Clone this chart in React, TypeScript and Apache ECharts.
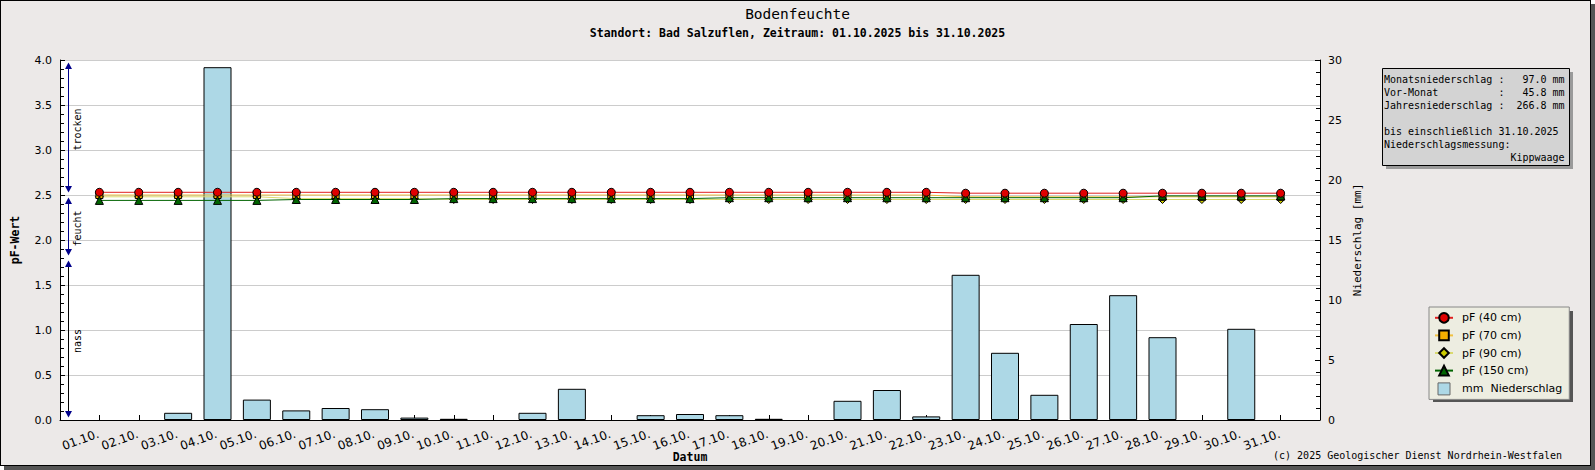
import React, { useEffect, useRef } from "react";
import * as echarts from "echarts";

const DAYS = [
  "01.10.", "02.10.", "03.10.", "04.10.", "05.10.", "06.10.", "07.10.", "08.10.",
  "09.10.", "10.10.", "11.10.", "12.10.", "13.10.", "14.10.", "15.10.", "16.10.",
  "17.10.", "18.10.", "19.10.", "20.10.", "21.10.", "22.10.", "23.10.", "24.10.",
  "25.10.", "26.10.", "27.10.", "28.10.", "29.10.", "30.10.", "31.10.",
];

const RAIN_MM = [
  0, 0, 0.6, 29.4, 1.7, 0.8, 1.0, 0.9, 0.2, 0.1, 0, 0.6, 2.6, 0, 0.4, 0.5,
  0.4, 0.1, 0, 1.6, 2.5, 0.3, 12.1, 5.6, 2.1, 8.0, 10.4, 6.9, 0, 7.6, 0,
];

const PF_40 = [
  2.53, 2.53, 2.53, 2.53, 2.53, 2.53, 2.53, 2.53, 2.53, 2.53, 2.53, 2.53, 2.53, 2.53, 2.53, 2.53,
  2.53, 2.53, 2.53, 2.53, 2.53, 2.53, 2.52, 2.52, 2.52, 2.52, 2.52, 2.52, 2.52, 2.52, 2.52,
];
const PF_70 = [
  2.5, 2.5, 2.5, 2.5, 2.5, 2.5, 2.5, 2.5, 2.5, 2.5, 2.5, 2.5, 2.5, 2.5, 2.5, 2.5,
  2.5, 2.5, 2.5, 2.5, 2.5, 2.5, 2.48, 2.48, 2.48, 2.48, 2.48, 2.48, 2.48, 2.48, 2.48,
];
const PF_90 = [
  2.48, 2.48, 2.48, 2.48, 2.48, 2.46, 2.46, 2.46, 2.46, 2.45, 2.45, 2.45, 2.45, 2.45, 2.45, 2.45,
  2.45, 2.45, 2.45, 2.45, 2.45, 2.45, 2.45, 2.45, 2.45, 2.45, 2.45, 2.45, 2.45, 2.45, 2.45,
];
const PF_150 = [
  2.44, 2.44, 2.44, 2.44, 2.44, 2.45, 2.45, 2.45, 2.45, 2.46, 2.46, 2.46, 2.46, 2.46, 2.46, 2.46,
  2.47, 2.47, 2.47, 2.47, 2.47, 2.47, 2.47, 2.47, 2.47, 2.47, 2.47, 2.49, 2.49, 2.49, 2.49,
];

const SERIES_NAMES = ["pF (40 cm)", "pF (70 cm)", "pF (90 cm)", "pF (150 cm)", "mm  Niederschlag"];

const ZONES = [
  { label: "trocken", lo: 2.5, hi: 4.0, line: "#00008B" },
  { label: "feucht", lo: 1.8, hi: 2.5, line: "#00008B" },
  { label: "nass", lo: 0.0, hi: 1.8, line: "#000000" },
];

const INFO_LABELS = ["Monatsniederschlag", "Vor-Monat", "Jahresniederschlag"];
const INFO_VALUES = ["97.0 mm", "45.8 mm", "266.8 mm"];
const INFO_DATE = "bis einschließlich 31.10.2025";
const INFO_METHOD_LABEL = "Niederschlagsmessung:";
const INFO_METHOD = "Kippwaage";

const TITLE = "Bodenfeuchte";
const SUBTITLE = "Standort: Bad Salzuflen, Zeitraum: 01.10.2025 bis 31.10.2025";
const COPYRIGHT = "(c) 2025 Geologischer Dienst Nordrhein-Westfalen";

const SANS = "DejaVu Sans";
const MONO = "DejaVu Sans Mono";

function pad(arr: (number | null)[]) {
  return [null, ...arr, null];
}

export default function App() {
  const ref = useRef<HTMLDivElement>(null);

  useEffect(() => {
    const chart = echarts.init(ref.current!, null, { renderer: "svg" });

    const lineSeries = (
      name: string,
      data: number[],
      symbol: string,
      size: number,
      fill: string,
      lineColor: string
    ) => ({
      name,
      type: "line",
      yAxisIndex: 0,
      data: pad(data),
      symbol,
      symbolSize: size,
      showAllSymbol: true,
      itemStyle: { color: fill, borderColor: "#000", borderWidth: 1 },
      lineStyle: { color: lineColor, width: 1 },
      emphasis: { disabled: true },
      z: 3,
    });

    const option: any = {
      animation: false,
      backgroundColor: "transparent",
      textStyle: { fontFamily: SANS },
      title: {
        text: TITLE,
        subtext: SUBTITLE,
        left: "center",
        top: 1,
        itemGap: 6,
        textStyle: { fontFamily: MONO, fontSize: 14.5, fontWeight: "normal", color: "#000" },
        subtextStyle: { fontFamily: MONO, fontSize: 11.5, fontWeight: "bold", color: "#000" },
      },
      grid: {
        left: 60,
        top: 60,
        width: 1260,
        height: 360,
        show: true,
        containLabel: false,
        outerBoundsMode: "none",
        backgroundColor: "#ffffff",
        borderWidth: 0,
      },
      xAxis: {
        type: "category",
        data: ["", ...DAYS, ""],
        boundaryGap: false,
        axisLine: { show: true, lineStyle: { color: "#000", width: 1 } },
        axisTick: { show: true, inside: true, length: 5, interval: 0, lineStyle: { color: "#000" } },
        axisLabel: {
          interval: 0,
          rotate: 20,
          fontFamily: SANS,
          fontSize: 12,
          color: "#000",
          margin: 13,
          padding: [0, 1, 0, 0],
        },
        splitLine: { show: false },
        name: "Datum",
        nameLocation: "middle",
        nameGap: 31,
        nameMoveOverlap: false,
        nameTextStyle: { fontFamily: MONO, fontWeight: "bold", fontSize: 11.5, color: "#000" },
      },
      yAxis: [
        {
          type: "value",
          min: 0,
          max: 4,
          interval: 0.5,
          position: "left",
          axisLine: { show: true, lineStyle: { color: "#000", width: 1 } },
          axisTick: { show: true, inside: true, length: 5, lineStyle: { color: "#000" } },
          minorTick: { show: true, splitNumber: 5, length: 4, lineStyle: { color: "#000" } },
          axisLabel: {
            formatter: (v: number) => v.toFixed(1),
            fontFamily: SANS,
            fontSize: 11,
            color: "#000",
            margin: 8,
          },
          splitLine: { show: true, lineStyle: { color: "#CCCCCC", width: 1 } },
          name: "pF-Wert",
          nameLocation: "middle",
          nameGap: 39,
          nameRotate: 90,
          nameMoveOverlap: false,
          nameTextStyle: { fontFamily: MONO, fontWeight: "bold", fontSize: 11.5, color: "#000" },
        },
        {
          type: "value",
          min: 0,
          max: 30,
          interval: 5,
          position: "right",
          axisLine: { show: true, lineStyle: { color: "#000", width: 1 } },
          axisTick: { show: true, inside: true, length: 5, lineStyle: { color: "#000" } },
          minorTick: { show: true, splitNumber: 5, length: 4, lineStyle: { color: "#000" } },
          axisLabel: { fontFamily: SANS, fontSize: 11, color: "#000", margin: 8 },
          splitLine: { show: false },
          name: "Niederschlag [mm]",
          nameLocation: "middle",
          nameGap: 32,
          nameRotate: 90,
          nameMoveOverlap: false,
          nameTextStyle: { fontFamily: MONO, fontSize: 11, color: "#000" },
        },
      ],
      legend: {
        orient: "vertical",
        left: 1429,
        top: 307,
        backgroundColor: "#EDEDE1",
        borderColor: "#888888",
        borderWidth: 1,
        padding: [5, 7, 4, 5],
        itemWidth: 18,
        itemHeight: 12,
        itemGap: 6,
        selectedMode: false,
        z: 5,
        textStyle: { fontFamily: SANS, fontSize: 11, color: "#000", padding: [0, 0, 0, 4] },
        data: [
          SERIES_NAMES[0],
          SERIES_NAMES[1],
          SERIES_NAMES[2],
          SERIES_NAMES[3],
          {
            name: SERIES_NAMES[4],
            icon: "path://M0,0H10V10H0Z",
            itemStyle: { color: "#ADD8E6", borderColor: "#666666", borderWidth: 1 },
          },
        ],
      },
      series: [
        {
          name: SERIES_NAMES[4],
          type: "bar",
          yAxisIndex: 1,
          data: pad(RAIN_MM.map((v) => (v > 0 ? v : null))),
          barWidth: 28,
          itemStyle: { color: "#ADD8E6", borderColor: "#000", borderWidth: 1 },
          emphasis: { disabled: true },
          z: 1,
        },
        lineSeries(SERIES_NAMES[2], PF_90, "diamond", 8, "#CCCC00", "#DADA70"),
        lineSeries(SERIES_NAMES[1], PF_70, "rect", 7, "#F5B000", "#F0C040"),
        lineSeries(SERIES_NAMES[3], PF_150, "triangle", 8, "#006400", "#006400"),
        lineSeries(SERIES_NAMES[0], PF_40, "circle", 8, "#E00000", "#E02020"),
      ],
    };

    chart.setOption(option);

    const yPx = (v: number) => chart.convertToPixel({ yAxisIndex: 0 }, v) as number;
    const ax = 68.5;
    const graphics: any[] = [];

    ZONES.forEach((z) => {
      const top = yPx(z.hi) + 2.5;
      const bottom = yPx(z.lo) - 2.5;
      graphics.push({
        type: "line",
        shape: { x1: ax, y1: top + 5, x2: ax, y2: bottom - 5 },
        style: { stroke: z.line, lineWidth: 1 },
        z: 10,
      });
      graphics.push({
        type: "polygon",
        shape: { points: [[ax, top], [ax - 3.5, top + 6.5], [ax + 3.5, top + 6.5]] },
        style: { fill: "#00008B" },
        z: 10,
      });
      graphics.push({
        type: "polygon",
        shape: { points: [[ax, bottom], [ax - 3.5, bottom - 6.5], [ax + 3.5, bottom - 6.5]] },
        style: { fill: "#00008B" },
        z: 10,
      });
      graphics.push({
        type: "text",
        x: 77,
        y: (top + bottom) / 2 + 2,
        rotation: Math.PI / 2,
        style: {
          text: z.label,
          fontFamily: MONO,
          fontSize: 10,
          fill: "#000",
          align: "center",
          verticalAlign: "middle",
        },
        z: 10,
      });
    });

    // info box
    const bx = 1382.5, by = 68.5, bw = 187, bh = 97;
    graphics.push({
      type: "rect",
      shape: { x: bx + 3.5, y: by + 3.5, width: bw, height: bh },
      style: { fill: "#9A9A9A" },
      z: 1,
    });
    graphics.push({
      type: "rect",
      shape: { x: bx, y: by, width: bw, height: bh },
      style: { fill: "#D3D3D3", stroke: "#000", lineWidth: 1 },
      z: 2,
    });
    const cw = 6.02;
    const x0 = 1384;
    const rowY = (i: number) => 79.5 + i * 13;
    const txt = (text: string, x: number, y: number, align: string) => ({
      type: "text",
      x,
      y,
      style: { text, fontFamily: MONO, fontSize: 10, fill: "#000", align, verticalAlign: "middle" },
      z: 3,
    });
    INFO_LABELS.forEach((l, i) => {
      graphics.push(txt(l, x0, rowY(i), "left"));
      graphics.push(txt(":", x0 + 19 * cw, rowY(i), "left"));
      graphics.push(txt(INFO_VALUES[i], x0 + 30 * cw, rowY(i), "right"));
    });
    graphics.push(txt(INFO_DATE, x0, rowY(4), "left"));
    graphics.push(txt(INFO_METHOD_LABEL, x0, rowY(5), "left"));
    graphics.push(txt(INFO_METHOD, x0 + 30 * cw, rowY(6), "right"));

    // legend shadow
    graphics.push({
      type: "rect",
      shape: { x: 1433, y: 311, width: 140, height: 91 },
      style: { fill: "#555555" },
      z: 1,
    });

    // copyright
    graphics.push(txt(COPYRIGHT, 1562, 455, "right"));

    chart.setOption({ graphic: graphics });

    return () => chart.dispose();
  }, []);

  return (
    <div style={{ position: "fixed", left: 0, top: 0, width: 1595, height: 470, background: "#ffffff" }}>
      <div
        style={{ position: "absolute", left: 4, top: 4, width: 1591, height: 466, background: "#555555" }}
      />
      <div
        style={{
          position: "absolute",
          left: 0,
          top: 0,
          width: 1589,
          height: 464,
          border: "1px solid #000",
          background: "#ECE9E8",
        }}
      />
      <div ref={ref} style={{ position: "absolute", left: 0, top: 0, width: 1595, height: 470 }} />
    </div>
  );
}
